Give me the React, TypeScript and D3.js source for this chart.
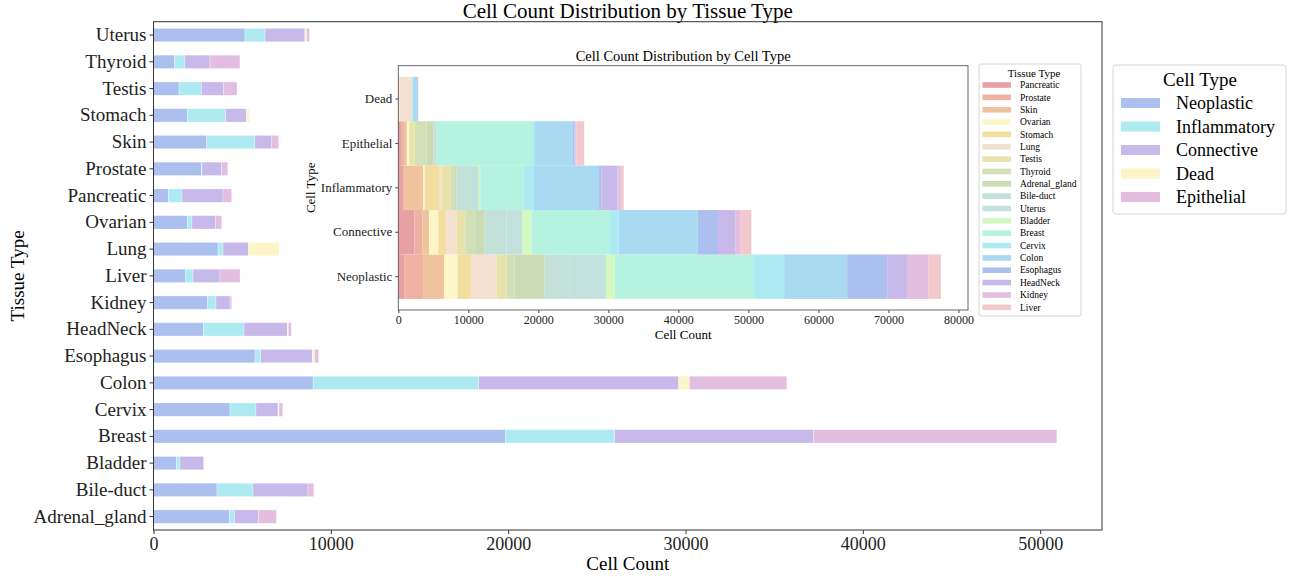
import { useEffect, useRef } from "react";
import * as d3 from "d3";

// tissue types, alphabetical (bottom to top on the main chart)
const tissues = [
  "Adrenal_gland", "Bile-duct", "Bladder", "Breast", "Cervix", "Colon",
  "Esophagus", "HeadNeck", "Kidney", "Liver", "Lung", "Ovarian",
  "Pancreatic", "Prostate", "Skin", "Stomach", "Testis", "Thyroid", "Uterus",
];

// cell counts per tissue, same order as tissues
const neoplastic = [4280, 3580, 1290, 19850, 4315, 9000, 5725, 2810, 3035, 1815, 3640, 1930, 835, 2700, 3000, 1910, 1440, 1175, 5160];
const inflammatory = [280, 2030, 205, 6160, 1465, 9340, 320, 2295, 490, 415, 280, 240, 775, 30, 2720, 2160, 1260, 600, 1130];
const connective = [1370, 3100, 1335, 11210, 1240, 11280, 2915, 2445, 790, 1520, 1430, 1340, 2310, 1120, 950, 1170, 1240, 1410, 2250];
const dead = [0, 0, 0, 0, 60, 600, 120, 50, 0, 0, 1740, 0, 0, 0, 0, 160, 0, 0, 100];
const epithelial = [1000, 330, 0, 13720, 210, 5490, 230, 170, 95, 1130, 0, 340, 490, 340, 390, 10, 770, 1690, 150];

const cellTypes = ["Neoplastic", "Inflammatory", "Connective", "Dead", "Epithelial"];
const cellColors = ["#abc0ef", "#aeeaf2", "#c7b9ea", "#fcf5c8", "#e3bee0"];

// order of tissues in the inset stack / legend
const insetTissues = [
  "Pancreatic", "Prostate", "Skin", "Ovarian", "Stomach", "Lung", "Testis",
  "Thyroid", "Adrenal_gland", "Bile-duct", "Uterus", "Bladder", "Breast",
  "Cervix", "Colon", "Esophagus", "HeadNeck", "Kidney", "Liver",
];
const insetColors = [
  "#e8a1a3", "#eeb1a2", "#efc39d", "#fdf6c9", "#f3dea0", "#f4e0d0", "#e9e3ab",
  "#d3dfb7", "#cbdcb5", "#c3e1d9", "#c4e2dd", "#d4f8c2", "#b5f2df",
  "#aeeaf2", "#a9daf1", "#abc0ef", "#c7b9ea", "#e3bee0", "#f1c9cd",
];
const insetRows = ["Neoplastic", "Connective", "Inflammatory", "Epithelial", "Dead"];

const FONT = "'Liberation Serif', 'Times New Roman', serif";

export default function App() {
  const svgRef = useRef<SVGSVGElement>(null);

  useEffect(() => {
    document.body.style.margin = "0";
    if (!svgRef.current) return;
    const svg = d3.select(svgRef.current);
    svg.selectAll("*").remove();

    const series = [neoplastic, inflammatory, connective, dead, epithelial];
    const rows = tissues.map((t, i) => {
      const r: Record<string, any> = { tissue: t };
      cellTypes.forEach((c, k) => (r[c] = series[k][i]));
      return r;
    });

    // ---------- main chart ----------
    const m = { left: 153.5, right: 1102, top: 21.7, bottom: 530 };
    const totals = rows.map((r) => d3.sum(cellTypes, (c) => r[c]));
    const x = d3
      .scaleLinear()
      .domain([0, (d3.max(totals) || 0) * 1.05])
      .range([m.left, m.right]);
    const y = d3
      .scaleBand()
      .domain(tissues)
      .range([m.bottom, m.top])
      .paddingInner(0.5)
      .paddingOuter(0.25);

    svg
      .append("text")
      .attr("x", (m.left + m.right) / 2)
      .attr("y", 18)
      .attr("text-anchor", "middle")
      .style("font-family", FONT)
      .style("font-size", "21px")
      .text("Cell Count Distribution by Tissue Type");

    const stack = d3.stack<any>().keys(cellTypes)(rows);
    const main = svg.append("g");
    main
      .selectAll("g.layer")
      .data(stack)
      .enter()
      .append("g")
      .attr("fill", (_d, i) => cellColors[i])
      .selectAll("rect")
      .data((d) => d)
      .enter()
      .append("rect")
      .attr("x", (d: any) => x(d[0]))
      .attr("width", (d: any) => Math.max(0, x(d[1]) - x(d[0])))
      .attr("y", (d: any) => y(d.data.tissue) || 0)
      .attr("height", y.bandwidth())
      .attr("stroke", "#ffffff")
      .attr("stroke-width", 0.5)
      .attr("stroke-opacity", (d: any) => (d[1] - d[0] > 0 ? 0.6 : 0));

    const xAxis = main
      .append("g")
      .attr("transform", `translate(0,${m.bottom})`)
      .call(d3.axisBottom(x).tickValues([0, 10000, 20000, 30000, 40000, 50000]).tickFormat(d3.format("d")).tickSize(4).tickSizeOuter(0));
    xAxis.selectAll("text").style("font-family", FONT).style("font-size", "18px").attr("fill", "#222");
    xAxis.select(".domain").remove();
    xAxis.selectAll(".tick line").attr("stroke", "#333");

    const yAxis = main
      .append("g")
      .attr("transform", `translate(${m.left},0)`)
      .call(d3.axisLeft(y).tickSize(4).tickSizeOuter(0));
    yAxis.selectAll("text").style("font-family", FONT).style("font-size", "19px").attr("fill", "#222").attr("x", -7);
    yAxis.select(".domain").remove();
    yAxis.selectAll(".tick line").attr("stroke", "#333");

    main
      .append("rect")
      .attr("x", m.left)
      .attr("y", m.top)
      .attr("width", m.right - m.left)
      .attr("height", m.bottom - m.top)
      .attr("fill", "none")
      .attr("stroke", "#333")
      .attr("stroke-width", 1);

    main
      .append("text")
      .attr("x", (m.left + m.right) / 2)
      .attr("y", 570)
      .attr("text-anchor", "middle")
      .style("font-family", FONT)
      .style("font-size", "19px")
      .text("Cell Count");
    main
      .append("text")
      .attr("transform", `translate(24,${(m.top + m.bottom) / 2}) rotate(-90)`)
      .attr("text-anchor", "middle")
      .style("font-family", FONT)
      .style("font-size", "19px")
      .text("Tissue Type");

    // main legend
    const lg = svg.append("g");
    lg.append("rect")
      .attr("x", 1113)
      .attr("y", 65)
      .attr("width", 173)
      .attr("height", 149)
      .attr("rx", 3)
      .attr("fill", "#fff")
      .attr("stroke", "#d6d6d6");
    lg.append("text")
      .attr("x", 1200)
      .attr("y", 86)
      .attr("text-anchor", "middle")
      .style("font-family", FONT)
      .style("font-size", "19px")
      .text("Cell Type");
    cellTypes.forEach((c, i) => {
      const cy = 103 + i * 23.5;
      lg.append("rect").attr("x", 1121).attr("y", cy - 5).attr("width", 39).attr("height", 10).attr("fill", cellColors[i]);
      lg.append("text")
        .attr("x", 1176)
        .attr("y", cy + 6)
        .style("font-family", FONT)
        .style("font-size", "18px")
        .text(c);
    });

    // ---------- inset chart ----------
    const n = { left: 398.3, right: 968, top: 65.7, bottom: 310 };
    const insetData = insetRows.map((c) => {
      const k = cellTypes.indexOf(c);
      const r: Record<string, any> = { cell: c };
      insetTissues.forEach((t) => (r[t] = series[k][tissues.indexOf(t)]));
      return r;
    });
    const cellTotals = insetData.map((r) => d3.sum(insetTissues, (t) => r[t]));
    const xi = d3
      .scaleLinear()
      .domain([0, (d3.max(cellTotals) || 0) * 1.05])
      .range([n.left, n.right]);
    const yi = d3
      .scaleBand()
      .domain(insetRows)
      .range([n.bottom, n.top])
      .paddingInner(0)
      .paddingOuter(0.25);

    const inset = svg.append("g");
    inset
      .append("rect")
      .attr("x", n.left)
      .attr("y", n.top)
      .attr("width", n.right - n.left)
      .attr("height", n.bottom - n.top)
      .attr("fill", "#fff");

    const istack = d3.stack<any>().keys(insetTissues)(insetData);
    inset
      .selectAll("g.layer")
      .data(istack)
      .enter()
      .append("g")
      .attr("fill", (_d, i) => insetColors[i])
      .selectAll("rect")
      .data((d) => d)
      .enter()
      .append("rect")
      .attr("x", (d: any) => xi(d[0]))
      .attr("width", (d: any) => Math.max(0, xi(d[1]) - xi(d[0])))
      .attr("y", (d: any) => yi(d.data.cell) || 0)
      .attr("height", yi.bandwidth());

    const xiAxis = inset
      .append("g")
      .attr("transform", `translate(0,${n.bottom})`)
      .call(d3.axisBottom(xi).tickValues(d3.range(0, 80001, 10000)).tickFormat(d3.format("d")).tickSize(3).tickSizeOuter(0).tickPadding(2));
    xiAxis.selectAll("text").style("font-family", FONT).style("font-size", "12px").attr("fill", "#222");
    xiAxis.select(".domain").remove();
    xiAxis.selectAll(".tick line").attr("stroke", "#444");

    const yiAxis = inset
      .append("g")
      .attr("transform", `translate(${n.left},0)`)
      .call(d3.axisLeft(yi).tickSize(3).tickSizeOuter(0));
    yiAxis.selectAll("text").style("font-family", FONT).style("font-size", "13px").attr("fill", "#222");
    yiAxis.select(".domain").remove();
    yiAxis.selectAll(".tick line").attr("stroke", "#444");

    inset
      .append("rect")
      .attr("x", n.left)
      .attr("y", n.top)
      .attr("width", n.right - n.left)
      .attr("height", n.bottom - n.top)
      .attr("fill", "none")
      .attr("stroke", "#555")
      .attr("stroke-width", 0.9);

    inset
      .append("text")
      .attr("x", (n.left + n.right) / 2)
      .attr("y", 61)
      .attr("text-anchor", "middle")
      .style("font-family", FONT)
      .style("font-size", "14.5px")
      .text("Cell Count Distribution by Cell Type");
    inset
      .append("text")
      .attr("x", (n.left + n.right) / 2)
      .attr("y", 339)
      .attr("text-anchor", "middle")
      .style("font-family", FONT)
      .style("font-size", "13px")
      .text("Cell Count");
    inset
      .append("text")
      .attr("transform", `translate(315,${(n.top + n.bottom) / 2}) rotate(-90)`)
      .attr("text-anchor", "middle")
      .style("font-family", FONT)
      .style("font-size", "13px")
      .text("Cell Type");

    // inset legend
    const il = svg.append("g");
    il.append("rect")
      .attr("x", 979)
      .attr("y", 64)
      .attr("width", 102)
      .attr("height", 252)
      .attr("rx", 2)
      .attr("fill", "#fff")
      .attr("stroke", "#d6d6d6");
    il.append("text")
      .attr("x", 1034)
      .attr("y", 77)
      .attr("text-anchor", "middle")
      .style("font-family", FONT)
      .style("font-size", "11px")
      .text("Tissue Type");
    insetTissues.forEach((t, i) => {
      const cy = 85 + i * 12.35;
      il.append("rect").attr("x", 982.5).attr("y", cy - 2.8).attr("width", 28.5).attr("height", 5.6).attr("fill", insetColors[i]);
      il.append("text")
        .attr("x", 1020)
        .attr("y", cy + 3.2)
        .style("font-family", FONT)
        .style("font-size", "9.5px")
        .text(t);
    });
  }, []);

  return (
    <svg
      ref={svgRef}
      width={1294}
      height={577}
      style={{ display: "block", background: "#fff" }}
    />
  );
}
